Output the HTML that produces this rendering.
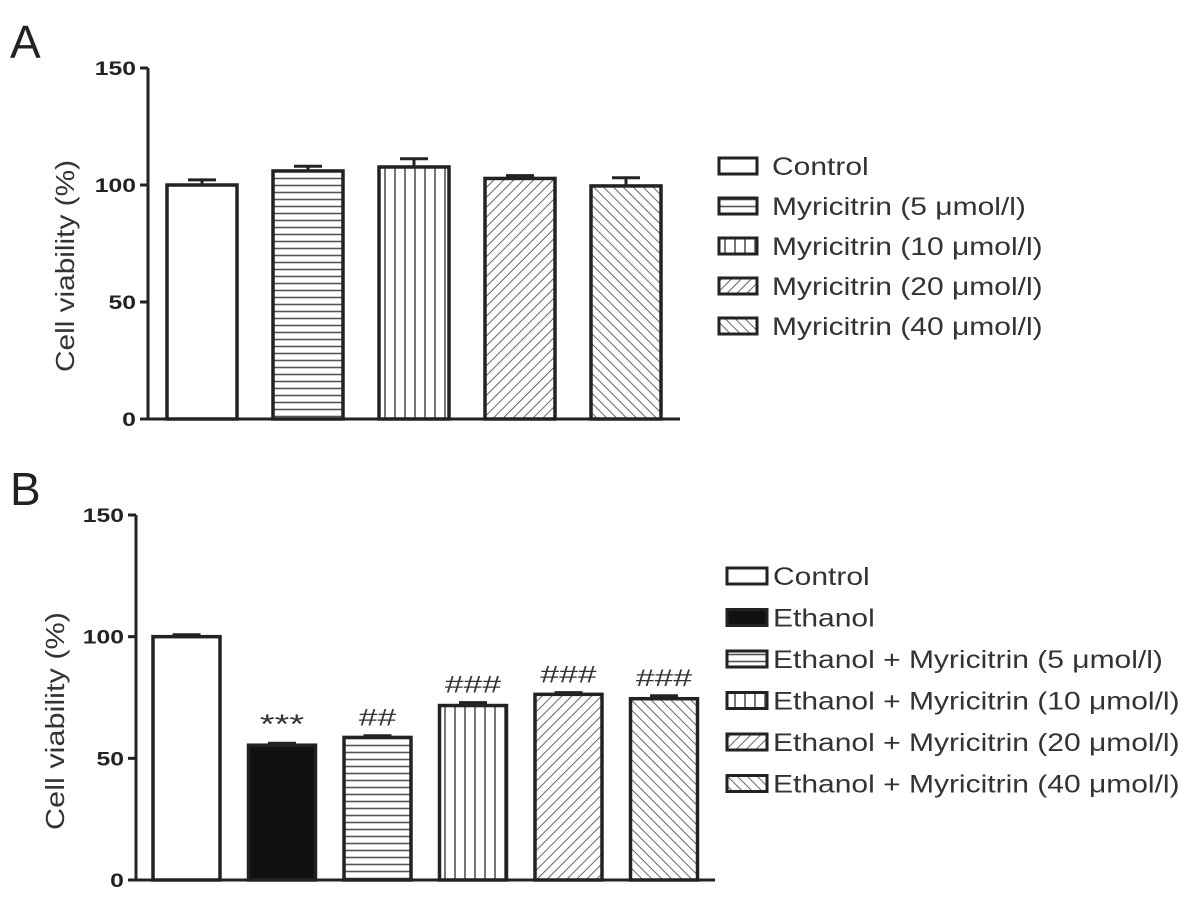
<!DOCTYPE html>
<html><head><meta charset="utf-8"><style>
body{margin:0;background:#fff;}
svg{display:block;font-family:"Liberation Sans",Arial,sans-serif;}
</style></head><body>
<svg id="chart" width="1193" height="902" viewBox="0 0 1193 902">
<defs>
<pattern id="pH" width="8" height="7" patternUnits="userSpaceOnUse"><rect width="8" height="7" fill="#fff"/><line x1="0" y1="3.5" x2="8" y2="3.5" stroke="#555" stroke-width="1.6"/></pattern>
<pattern id="pV" width="10" height="8" patternUnits="userSpaceOnUse"><rect width="10" height="8" fill="#fff"/><line x1="5" y1="0" x2="5" y2="8" stroke="#555" stroke-width="1.6"/></pattern>
<pattern id="pR" width="7" height="7" patternUnits="userSpaceOnUse" patternTransform="rotate(45)"><rect width="7" height="7" fill="#fff"/><line x1="0" y1="0" x2="0" y2="7" stroke="#555" stroke-width="1.8"/></pattern>
<pattern id="pL" width="7" height="7" patternUnits="userSpaceOnUse" patternTransform="rotate(-45)"><rect width="7" height="7" fill="#fff"/><line x1="0" y1="0" x2="0" y2="7" stroke="#555" stroke-width="1.8"/></pattern>
</defs>
<text x="10" y="58" font-size="46" fill="#222">A</text>
<text x="10" y="505" font-size="46" fill="#222">B</text>
<g id="gA"></g><g id="gB"></g>
</svg>
<script>
const catsA=["Control","Myricitrin (5 μmol/l)","Myricitrin (10 μmol/l)","Myricitrin (20 μmol/l)","Myricitrin (40 μmol/l)"];
const valsA=[100,106,107.7,102.8,99.6];
const errA=[2.2,2,3.5,1.2,3.5];
const fillsA=["#fff","url(#pH)","url(#pV)","url(#pR)","url(#pL)"];
const catsB=["Control","Ethanol","Ethanol + Myricitrin (5 μmol/l)","Ethanol + Myricitrin (10 μmol/l)","Ethanol + Myricitrin (20 μmol/l)","Ethanol + Myricitrin (40 μmol/l)"];
const valsB=[100,55.4,58.6,71.7,76.3,74.5];
const errB=[0.8,0.8,0.7,1.2,0.7,1.2];
const marksB=["","***","##","###","###","###"];
const fillsB=["#fff","#111","url(#pH)","url(#pV)","url(#pR)","url(#pL)"];
const ticks=[0,50,100,150];
const NS="http://www.w3.org/2000/svg";
function mk(p,t,a,txt){const e=document.createElementNS(NS,t);for(const k in a)e.setAttribute(k,a[k]);if(txt!==undefined)e.textContent=txt;p.appendChild(e);return e;}
function stretch(e,f){const w=e.getComputedTextLength();e.setAttribute("textLength",(w*f).toFixed(1));e.setAttribute("lengthAdjust","spacingAndGlyphs");}
function panel(g,cfg){
 const y=v=>cfg.y0-(cfg.y0-cfg.y150)*v/150;
 const ax=mk(g,"path",{d:`M${cfg.ax},${y(150)} V${cfg.y0} H${cfg.xEnd}`,stroke:"#222","stroke-width":3,fill:"none"});
 
 
 ticks.forEach(t=>{
  const l=mk(g,"line",{x1:cfg.ax-8,x2:cfg.ax,y1:y(t),y2:y(t),stroke:"#222","stroke-width":3});
  
  
  const tx=mk(g,"text",{x:cfg.ax-12,y:y(t)+7,"text-anchor":"end","font-size":19,"font-weight":"bold",fill:"#222"},t);
  
  
  stretch(tx,1.3);
 });
 const tt=mk(g,"text",{x:0,y:0,transform:`translate(${cfg.titleX},${cfg.titleY}) rotate(-90)`,"text-anchor":"middle","font-size":26,fill:"#333"},"Cell viability (%)");
 
 
 tt.setAttribute("textLength",cfg.titleLen);tt.setAttribute("lengthAdjust","spacingAndGlyphs");
 cfg.vals.forEach((v,i)=>{
  const x=cfg.x0+i*cfg.step, cx=x+cfg.w/2;
  const e=mk(g,"path",{d:`M${cx},${y(v)} V${y(v+cfg.err[i])} M${cx-14},${y(v+cfg.err[i])} H${cx+14}`,stroke:"#222","stroke-width":3,fill:"none"});
  
  
  const b=mk(g,"rect",{x:x,y:y(v),width:cfg.w,height:y(0)-y(v),fill:cfg.fills[i],stroke:"#222","stroke-width":3.5});
  
  
  if(cfg.marks&&cfg.marks[i]){
   const m=mk(g,"text",{x:cx,y:y(v+cfg.err[i])-10,"text-anchor":"middle","font-size":cfg.marks[i]==="***"?27:24,fill:"#333"},cfg.marks[i]);
   
   
   stretch(m,1.4);
  }
 });
 cfg.cats.forEach((c,i)=>{
  const ry=cfg.ly0+i*cfg.lstep;
  const r=mk(g,"rect",{x:cfg.lx,y:ry-8,width:cfg.lw,height:16,fill:cfg.fills[i],stroke:"#222","stroke-width":3});
  
  
  const t=mk(g,"text",{x:cfg.ltx,y:ry+9,"font-size":cfg.lfs,fill:"#333"},c);
  
  
  stretch(t,1.2);
 });
}
panel(document.getElementById("gA"),{y0:419,y150:68,ax:148,xEnd:680,x0:167,step:106,w:70,vals:valsA,err:errA,fills:fillsA,cats:catsA,titleX:74,titleY:266,titleLen:212,lx:719,lw:38,ly0:166,lstep:40,ltx:772,lfs:25});
panel(document.getElementById("gB"),{y0:880,y150:515,ax:136,xEnd:715,x0:153,step:95.5,w:67,vals:valsB,err:errB,marks:marksB,fills:fillsB,cats:catsB,titleX:64,titleY:721,titleLen:218,lx:727,lw:40,ly0:576,lstep:41.5,ltx:773,lfs:25});
</script>
</body></html>
